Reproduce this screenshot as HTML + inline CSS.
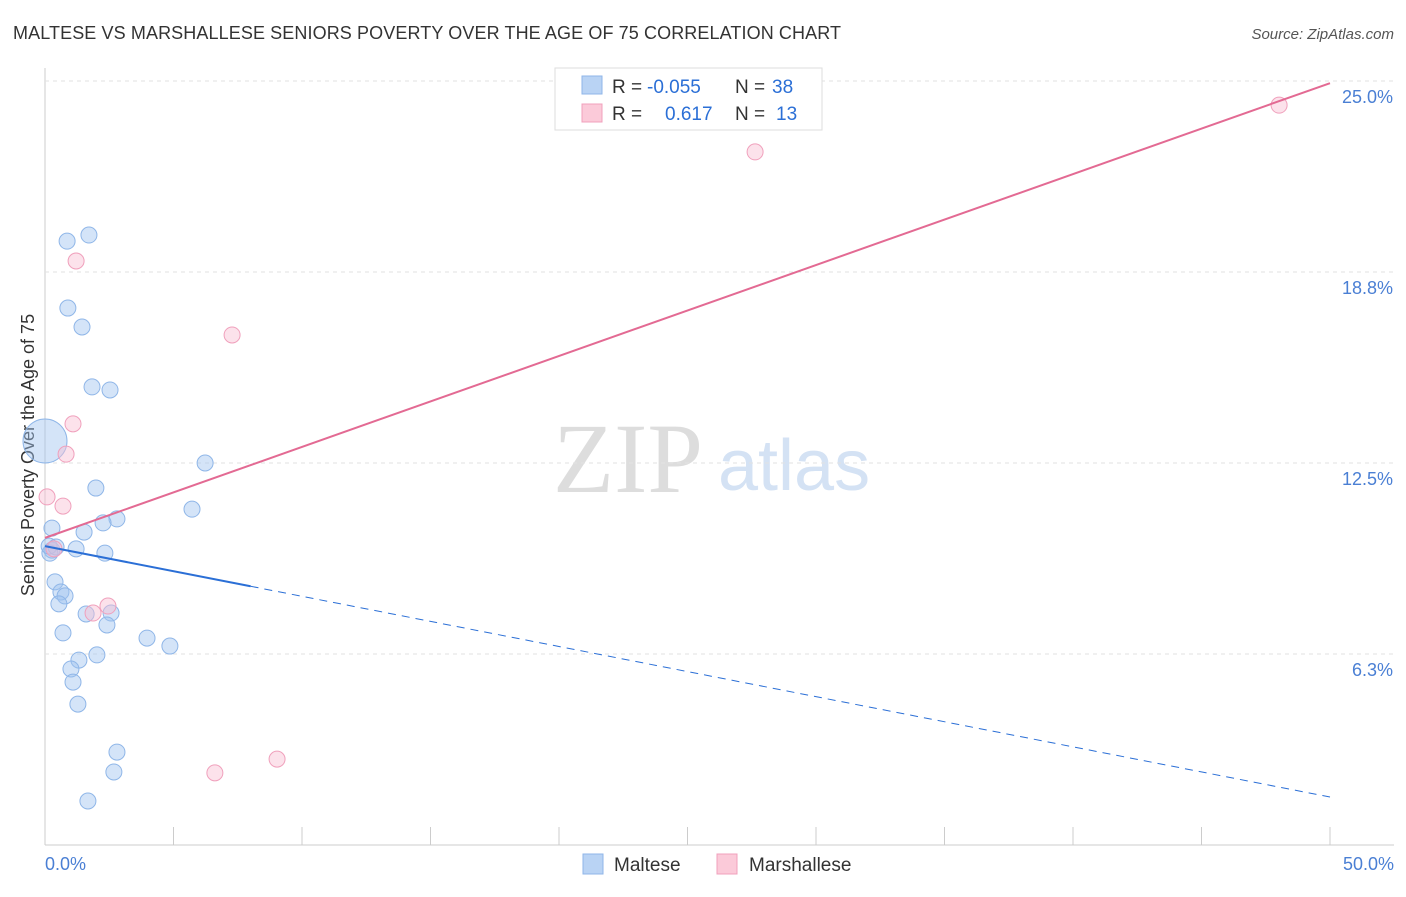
<!DOCTYPE html>
<html><head><meta charset="utf-8"><style>
body{margin:0;background:#fff;font-family:"Liberation Sans",sans-serif;}
svg text{font-family:"Liberation Sans",sans-serif;}
</style></head><body>
<svg id="c" width="1406" height="892">
<text x="13" y="39" font-size="18" fill="#333" textLength="828">MALTESE VS MARSHALLESE SENIORS POVERTY OVER THE AGE OF 75 CORRELATION CHART</text>
<text x="1394" y="39" font-size="15" fill="#555" font-style="italic" text-anchor="end">Source: ZipAtlas.com</text>
<text x="553" y="492" font-size="100" fill="#ddd" style="font-family:'Liberation Serif',serif">ZIP</text>
<text x="718" y="490" font-size="72" fill="#d4e2f4">atlas</text>
<text transform="translate(34,455) rotate(-90)" font-size="18" fill="#333" text-anchor="middle">Seniors Poverty Over the Age of 75</text>
<g id="grid"></g><g id="marks"></g>
<g>
<rect x="555" y="68" width="267" height="62" fill="#fff" stroke="#ddd"/>
<rect x="582" y="76" width="20" height="18" fill="#b9d3f4" stroke="#8fb6e8"/>
<rect x="582" y="104" width="20" height="18" fill="#fbcad9" stroke="#f0a0bc"/>
<text y="93" font-size="19" fill="#333"><tspan x="612">R =</tspan><tspan x="647" fill="#2b6fd6">-0.055</tspan><tspan x="735">N =</tspan><tspan x="772" fill="#2b6fd6">38</tspan></text>
<text y="120" font-size="19" fill="#333"><tspan x="612">R =</tspan><tspan fill="#2b6fd6" x="665">0.617</tspan><tspan x="735">N = </tspan><tspan fill="#2b6fd6" x="776">13</tspan></text>
</g>
<g>
<rect x="583" y="854" width="20" height="20" fill="#b9d3f4" stroke="#8fb6e8"/>
<text x="614" y="871" font-size="19" fill="#333">Maltese</text>
<rect x="717" y="854" width="20" height="20" fill="#fbcad9" stroke="#f0a0bc"/>
<text x="749" y="871" font-size="19" fill="#333">Marshallese</text>
</g>
</svg>
<script>
const yTicks=[25,18.75,12.5,6.25];
const yTickLabels=["25.0%","18.8%","12.5%","6.3%"];
const xTickLabels=["0.0%","50.0%"];
const malteseX=[0.86,1.71,0.89,1.44,1.83,2.53,0,6.23,1.98,5.72,2.80,2.26,0.27,1.52,1.21,0.27,2.33,0.39,0.62,0.78,0.54,1.60,2.57,2.41,0.70,3.97,4.86,2.02,1.32,1.01,1.09,1.28,2.80,2.68,1.67,0.19,0.16,0.43];
const malteseY=[19.76,19.96,17.57,16.95,14.99,14.89,13.22,12.50,11.68,10.99,10.67,10.54,10.37,10.24,9.69,9.65,9.55,8.61,8.28,8.15,7.89,7.56,7.59,7.20,6.94,6.77,6.51,6.22,6.05,5.76,5.33,4.61,3.04,2.39,1.44,9.55,9.78,9.75];
const marshX=[48.02,27.63,1.21,7.28,1.09,0.82,0.08,0.70,0.35,2.45,1.87,6.61,9.03];
const marshY=[24.21,22.68,19.11,16.69,13.78,12.79,11.39,11.09,9.69,7.82,7.59,2.36,2.81];
const malteseTrend=[9.78,1.57];
const marshTrend=[10.05,24.93];
const X=v=>45+v*25.7, Y=v=>845-v*30.56;
const NS="http://www.w3.org/2000/svg";
function mk(t,a,p){const e=document.createElementNS(NS,t);for(const k in a)e.setAttribute(k,a[k]);p.appendChild(e);return e;}
const g=document.getElementById('grid'), m=document.getElementById('marks');
let ax=mk('line',{x1:45,y1:68,x2:45,y2:845,stroke:'#ccc'},g);


let bx=mk('line',{x1:45,y1:845,x2:1394,y2:845,stroke:'#ccc'},g);


yTicks.forEach((v,i)=>{
 let l=mk('line',{x1:45,y1:Y(v),x2:1394,y2:Y(v),stroke:'#e2e2e2','stroke-dasharray':'4,4'},g);
 
 
 let t=mk('text',{x:1393,y:Y(v)+22,'font-size':18,fill:'#4a7fd4','text-anchor':'end'},g);t.textContent=yTickLabels[i];
 
 
});
for(let i=1;i<=10;i++){let l=mk('line',{x1:X(i*5),y1:827,x2:X(i*5),y2:845,stroke:'#ccc'},g);
 
 }
[[0,'start'],[50,'end']].forEach((d,i)=>{let t=mk('text',{x:i?1394:45,y:870,'font-size':18,fill:'#4a7fd4','text-anchor':d[1]},g);t.textContent=xTickLabels[i];
 
 });
malteseX.forEach((x,i)=>{let c=mk('circle',{cx:X(x),cy:Y(malteseY[i]),r:i==6?22:8,fill:'rgba(160,196,240,0.45)',stroke:'#8fb6e8','stroke-width':1},m);
 
 });
marshX.forEach((x,i)=>{let c=mk('circle',{cx:X(x),cy:Y(marshY[i]),r:8,fill:'rgba(248,190,210,0.45)',stroke:'#f0a0bc','stroke-width':1},m);
 
 });
const bAt=x=>malteseTrend[0]+(malteseTrend[1]-malteseTrend[0])*x/50;
let l1=mk('line',{x1:X(0),y1:Y(bAt(0)),x2:X(8),y2:Y(bAt(8)),stroke:'#2b6fd6','stroke-width':2},m);


let l2=mk('line',{x1:X(8),y1:Y(bAt(8)),x2:X(50),y2:Y(bAt(50)),stroke:'#2b6fd6','stroke-width':1,'stroke-dasharray':'8,6'},m);


let l3=mk('line',{x1:X(0),y1:Y(marshTrend[0]),x2:X(50),y2:Y(marshTrend[1]),stroke:'#e36a93','stroke-width':2},m);


</script>
</body></html>
